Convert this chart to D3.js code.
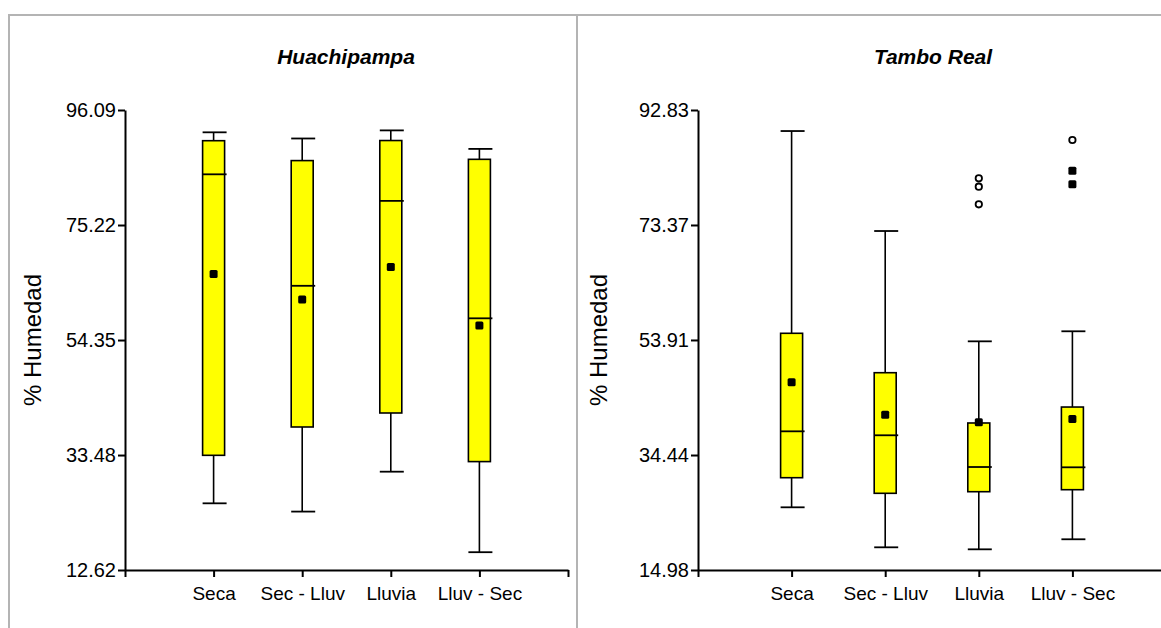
<!DOCTYPE html>
<html>
<head>
<meta charset="utf-8">
<script src="https://cdn.jsdelivr.net/npm/d3@7"></script>
<style>
  body { margin: 0; background: #fff; }
  svg { display: block; font-family: "Liberation Sans", Arial, sans-serif; }
</style>
</head>
<body>
<svg width="1161" height="628"></svg>
<script>
const categories = ["Seca", "Sec - Lluv", "Lluvia", "Lluv - Sec"];

// Huachipampa
const huaTicks = [12.62, 33.48, 54.35, 75.22, 96.09];
const huaLow = [24.72, 23.22, 30.46, 15.85];
const huaQ1 = [33.43, 38.57, 41.11, 32.29];
const huaMedian = [84.42, 64.19, 79.60, 58.29];
const huaQ3 = [90.52, 86.91, 90.55, 87.14];
const huaHigh = [92.04, 90.92, 92.39, 89.03];
const huaMean = [66.33, 61.70, 67.60, 57.00];
const huaOutliers = [];

// Tambo Real
const tamTicks = [14.98, 34.44, 53.91, 73.37, 92.83];
const tamLow = [25.59, 18.82, 18.48, 20.18];
const tamQ1 = [30.60, 27.96, 28.23, 28.57];
const tamMedian = [38.45, 37.78, 32.41, 32.36];
const tamQ3 = [55.04, 48.37, 39.86, 42.56];
const tamHigh = [89.27, 72.35, 53.68, 55.38];
const tamMean = [46.74, 41.26, 39.98, 40.53];
// [categoria, valor, tipo]
const tamOutliers = [
  [2, 81.27, "o"], [2, 79.85, "o"], [2, 76.87, "o"],
  [3, 87.75, "o"], [3, 82.55, "x"], [3, 80.25, "x"]
];

const svg = d3.select("svg");

// marcos de los paneles
svg.append("path")
  .attr("d", "M9,628 V15 H1161 M577,15 V628")
  .attr("fill", "none")
  .attr("stroke", "#b4b4b4")
  .attr("stroke-width", 2);

function drawPanel(opt) {
  const g = svg.append("g");
  const y = d3.scaleLinear()
    .domain([opt.ticks[0], opt.ticks[opt.ticks.length - 1]])
    .range([570, 110]);
  const x = d3.scaleLinear().domain([0, 5]).range([opt.x0, opt.x1]);

  const yAxis = g.append("g")
    .attr("transform", `translate(${opt.x0},0)`)
    .call(d3.axisLeft(y).tickValues(opt.ticks).tickFormat(d3.format(".2f"))
      .tickSize(7).tickSizeOuter(0).tickPadding(2));
  const xAxis = g.append("g")
    .attr("transform", "translate(0,570)")
    .call(d3.axisBottom(x).tickValues([0, 1, 2, 3, 4, 5])
      .tickFormat(d => categories[d - 1] || "")
      .tickSize(7).tickSizeOuter(0).tickPadding(10));

  [yAxis, xAxis].forEach(a => {
    a.selectAll("path, line").attr("stroke", "#000").attr("stroke-width", 2);
    a.selectAll("text").attr("fill", "#000");
  });
  yAxis.selectAll("text").style("font-size", "20px");
  xAxis.selectAll("text").style("font-size", "19px");

  g.append("text")
    .attr("x", opt.titleX).attr("y", 64)
    .attr("text-anchor", "middle")
    .style("font-size", "21px").style("font-weight", "bold").style("font-style", "italic")
    .text(opt.title);

  g.append("text")
    .attr("transform", `translate(${opt.labelX},340) rotate(-90)`)
    .attr("text-anchor", "middle")
    .style("font-size", "24px")
    .text("% Humedad");

  const idx = d3.range(categories.length);
  const bw = 22;
  const boxes = g.selectAll(".box").data(idx).join("g").attr("class", "box")
    .attr("transform", i => `translate(${x(i + 1)},0)`);

  boxes.append("line")
    .attr("x1", 0).attr("x2", 0)
    .attr("y1", i => y(opt.low[i])).attr("y2", i => y(opt.high[i]))
    .attr("stroke", "#000").attr("stroke-width", 1.6);
  boxes.selectAll(".cap").data(i => [opt.low[i], opt.high[i]]).join("line")
    .attr("x1", -bw / 2).attr("x2", bw / 2 + 2)
    .attr("y1", d => y(d)).attr("y2", d => y(d))
    .attr("stroke", "#000").attr("stroke-width", 1.8);
  boxes.append("rect")
    .attr("x", -bw / 2).attr("width", bw)
    .attr("y", i => y(opt.q3[i]))
    .attr("height", i => y(opt.q1[i]) - y(opt.q3[i]))
    .attr("fill", "#ffff00").attr("stroke", "#000").attr("stroke-width", 1.6);
  boxes.append("line")
    .attr("x1", -bw / 2).attr("x2", bw / 2 + 2)
    .attr("y1", i => y(opt.median[i])).attr("y2", i => y(opt.median[i]))
    .attr("stroke", "#000").attr("stroke-width", 1.8);
  boxes.append("rect")
    .attr("x", -4).attr("width", 8)
    .attr("y", i => y(opt.mean[i]) - 4).attr("height", 8)
    .attr("rx", 1.5).attr("fill", "#000");

  g.selectAll(".out-o").data(opt.outliers.filter(d => d[2] === "o")).join("circle")
    .attr("cx", d => x(d[0] + 1)).attr("cy", d => y(d[1])).attr("r", 3.2)
    .attr("fill", "#fff").attr("stroke", "#000").attr("stroke-width", 1.8);
  g.selectAll(".out-x").data(opt.outliers.filter(d => d[2] === "x")).join("rect")
    .attr("x", d => x(d[0] + 1) - 4).attr("y", d => y(d[1]) - 4)
    .attr("width", 8).attr("height", 8).attr("rx", 1.5).attr("fill", "#000");
}

drawPanel({
  title: "Huachipampa", titleX: 346, labelX: 41, x0: 125, x1: 568,
  ticks: huaTicks, low: huaLow, q1: huaQ1, median: huaMedian, q3: huaQ3,
  high: huaHigh, mean: huaMean, outliers: huaOutliers
});
drawPanel({
  title: "Tambo Real", titleX: 933, labelX: 607, x0: 698, x1: 1166,
  ticks: tamTicks, low: tamLow, q1: tamQ1, median: tamMedian, q3: tamQ3,
  high: tamHigh, mean: tamMean, outliers: tamOutliers
});
</script>
</body>
</html>
